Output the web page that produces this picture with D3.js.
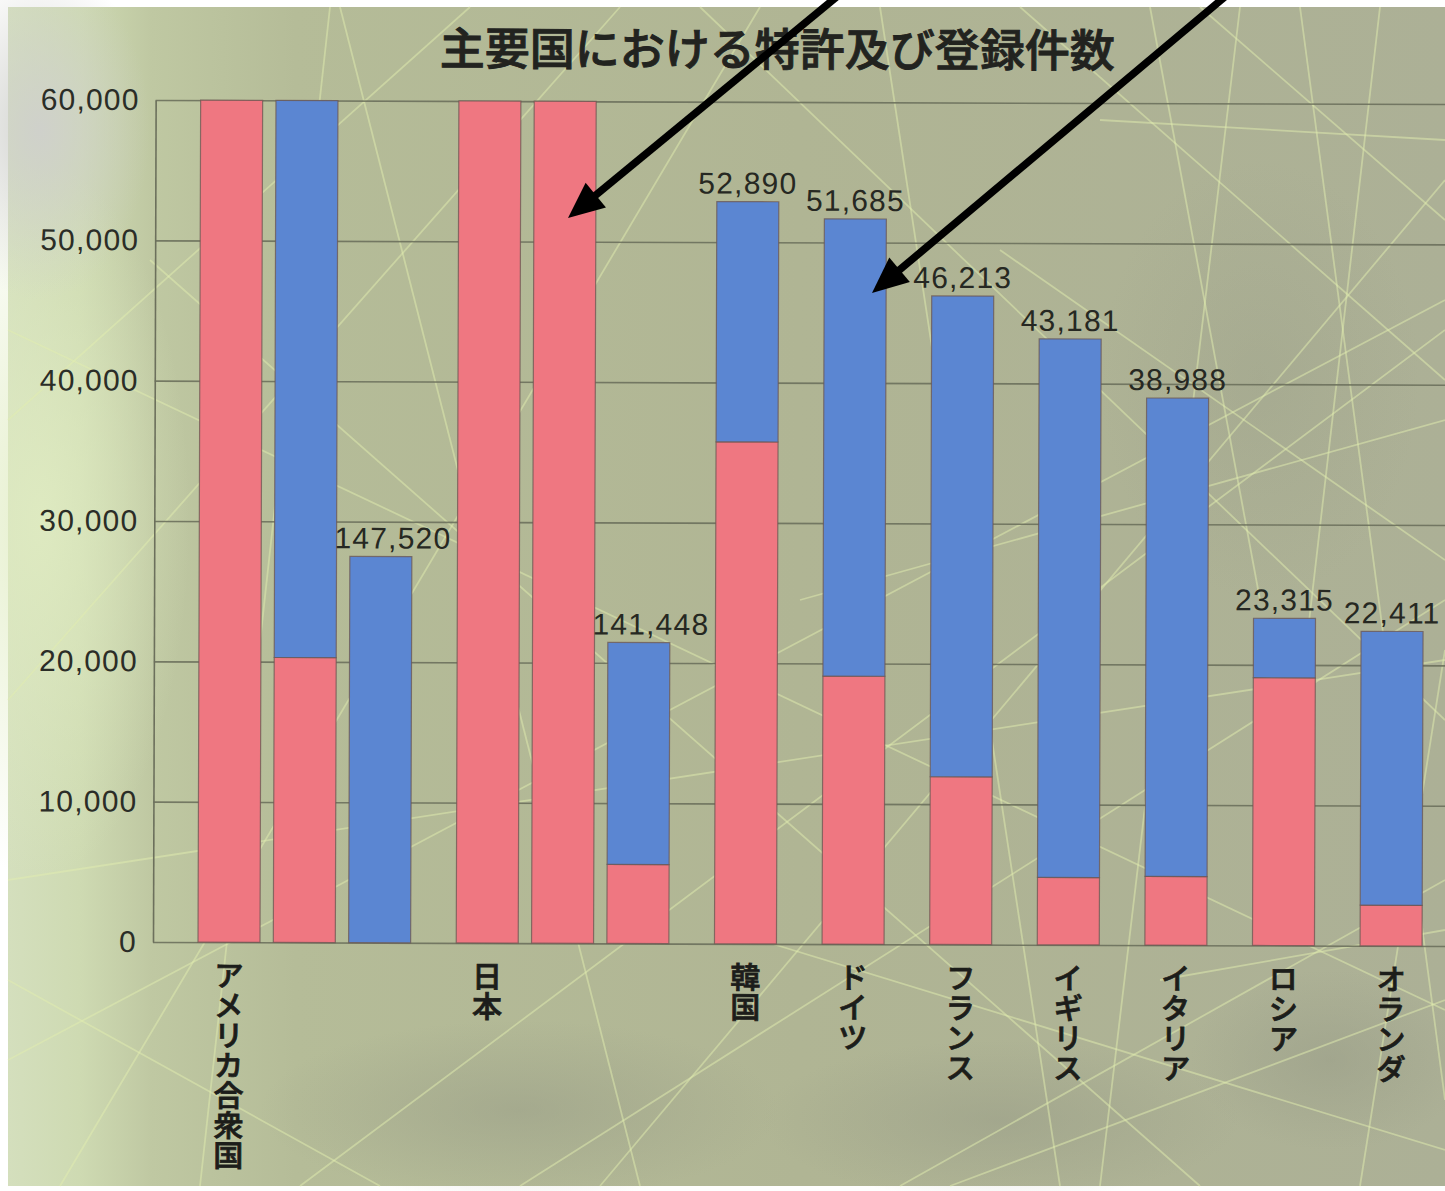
<!DOCTYPE html>
<html>
<head>
<meta charset="utf-8">
<script src="https://cdn.jsdelivr.net/npm/d3@7"></script>
<style>
  html, body { margin: 0; padding: 0; background: #ffffff; }
  svg { display: block; }
</style>
</head>
<body>
<svg id="chart" width="1445" height="1191"></svg>
<script>
// ---- data -------------------------------------------------------------
const countries = ["アメリカ合衆国", "日本", "韓国", "ドイツ", "フランス", "イギリス", "イタリア", "ロシア", "オランダ"];
// total registrations (printed above each bar)
const totals = [147520, 141448, 52890, 51685, 46213, 43181, 38988, 23315, 22411];
// lower (red) part of each bar; the blue part is the remainder of the total
const domestic = [80300, 125630, 35770, 19100, 11950, 4800, 4900, 19080, 2900];
const yTicks = [0, 10000, 20000, 30000, 40000, 50000, 60000];
const titleText = "主要国における特許及び登録件数";
const WRAP = 60000;          // bars taller than the axis continue in a new column

// ---- layout -----------------------------------------------------------
const W = 1445, H = 1191;
const plotLeft = 153, plotRight = 1445, plotTop = 100, plotBottom = 942;
const barW = 62;
const SUB = 0.7;             // spacing of continuation columns, in country steps

const svg = d3.select("#chart");
const defs = svg.append("defs");

// ---- textured backdrop ------------------------------------------------
const bgGrad = defs.append("linearGradient").attr("id", "bgH").attr("x1", 0).attr("x2", 1).attr("y1", 0).attr("y2", 0);
[[0, "#d4dfbd"], [0.05, "#cedab2"], [0.1, "#bfc8a2"], [0.2, "#b5bc98"], [0.55, "#b0b594"], [1, "#acb096"]]
  .forEach(([o, c]) => bgGrad.append("stop").attr("offset", o).attr("stop-color", c));

const glow = defs.append("radialGradient").attr("id", "glowL").attr("cx", 0.5).attr("cy", 0.5).attr("r", 0.5);
glow.append("stop").attr("offset", 0).attr("stop-color", "#e0ecc2").attr("stop-opacity", 0.85);
glow.append("stop").attr("offset", 1).attr("stop-color", "#e0ecc2").attr("stop-opacity", 0);

const greyPatch = defs.append("radialGradient").attr("id", "greyTL").attr("cx", 0.5).attr("cy", 0.5).attr("r", 0.5);
greyPatch.append("stop").attr("offset", 0).attr("stop-color", "#cfd0cc").attr("stop-opacity", 0.95);
greyPatch.append("stop").attr("offset", 1).attr("stop-color", "#cfd0cc").attr("stop-opacity", 0);

const dark = defs.append("radialGradient").attr("id", "darkBlot").attr("cx", 0.5).attr("cy", 0.5).attr("r", 0.5);
dark.append("stop").attr("offset", 0).attr("stop-color", "#979b86").attr("stop-opacity", 0.5);
dark.append("stop").attr("offset", 1).attr("stop-color", "#979b86").attr("stop-opacity", 0);

const bg = svg.append("g").attr("class", "backdrop");
bg.append("rect").attr("x", 8).attr("y", 7).attr("width", W - 8).attr("height", 1179).attr("fill", "url(#bgH)");
bg.append("ellipse").attr("cx", 40).attr("cy", 520).attr("rx", 150).attr("ry", 360).attr("fill", "url(#glowL)");
bg.append("ellipse").attr("cx", 40).attr("cy", 130).attr("rx", 110).attr("ry", 170).attr("fill", "url(#greyTL)");
bg.append("ellipse").attr("cx", 520).attr("cy", 1110).attr("rx", 260).attr("ry", 90).attr("fill", "url(#darkBlot)");
bg.append("ellipse").attr("cx", 1000).attr("cy", 1120).attr("rx", 240).attr("ry", 80).attr("fill", "url(#darkBlot)");
bg.append("ellipse").attr("cx", 1330).attr("cy", 1060).attr("rx", 140).attr("ry", 90).attr("fill", "url(#darkBlot)");
bg.append("ellipse").attr("cx", 1260).attr("cy", 380).attr("rx", 160).attr("ry", 220).attr("fill", "url(#darkBlot)").attr("opacity", 0.6);

// faint crossing strokes of the printed backdrop
const strokes = [
  [60, 1186, 760, 7], [300, 1186, 1445, 330], [520, 1186, 1445, 600], [900, 1186, 1445, 880],
  [8, 700, 620, 7], [8, 980, 380, 1186], [150, 260, 1200, 1186], [700, 7, 1445, 720],
  [1020, 7, 1445, 380], [8, 330, 1445, 1010], [200, 1186, 330, 7], [1100, 1186, 1240, 7],
  [1360, 1186, 1445, 650], [1200, 7, 1445, 220], [880, 7, 1060, 1186], [8, 1060, 1445, 300],
  [470, 7, 8, 420], [1300, 7, 1445, 1100], [950, 1186, 1445, 1000], [600, 1186, 1445, 180],
  [340, 7, 640, 1186], [1100, 120, 1445, 140], [1160, 980, 1445, 930],
  [760, 940, 1445, 1150], [8, 880, 1445, 660], [1000, 250, 1445, 560], [1150, 7, 1260, 600],
  [1380, 7, 1300, 700], [800, 600, 1445, 420]
];
bg.append("g").selectAll("line").data(strokes).join("line")
  .attr("x1", d => d[0]).attr("y1", d => d[1]).attr("x2", d => d[2]).attr("y2", d => d[3])
  .attr("stroke", "#e2eeaf").attr("stroke-width", 1.8).attr("stroke-opacity", 0.5);

// ---- chart --------------------------------------------------------------
// the printed page sits very slightly skewed
const chart = svg.append("g").attr("transform", `rotate(0.18, ${plotLeft}, ${plotBottom})`);

const y = d3.scaleLinear().domain([0, WRAP]).range([plotBottom, plotTop]);
const xUnit = d3.scaleLinear().domain([0, 1]).range([229, 336.6]);

// columns: tall totals continue in extra columns of WRAP each
const rows = countries.map((name, i) => ({ name, total: totals[i], domestic: domestic[i] }));
const columns = [];
let unit = 0;
rows.forEach(r => {
  const n = Math.ceil(r.total / WRAP);
  for (let j = 0; j < n; j++) {
    const lo = j * WRAP, hi = Math.min(r.total, (j + 1) * WRAP);
    columns.push({ row: r, j, n, u: unit + j * SUB, lo, hi });
  }
  unit += 1 + (n - 1) * SUB;
});

// gridlines + left axis
const yAxis = d3.axisLeft(y)
  .tickValues(yTicks)
  .tickFormat(d3.format(","))
  .tickSize(-(plotRight - plotLeft))
  .tickSizeOuter(0)
  .tickPadding(16);
const axisG = chart.append("g").attr("transform", `translate(${plotLeft},0)`).call(yAxis);
axisG.select(".domain").attr("stroke", "#6c705c").attr("stroke-width", 1.6);
axisG.selectAll(".tick line").attr("stroke", "#6c705c").attr("stroke-width", 1.6).attr("stroke-opacity", 0.9);
axisG.selectAll(".tick text")
  .attr("fill", "#2b2d27")
  .style("font-family", "'Liberation Sans', Arial, sans-serif")
  .style("font-size", "30px")
  .style("letter-spacing", "1.2px");

// stacked segments
const segs = [];
columns.forEach(c => {
  const d = c.row.domestic;
  if (d > c.lo) segs.push({ c, from: c.lo, to: Math.min(d, c.hi), color: "#ef7781" });
  const fFrom = Math.max(d, c.lo);
  if (c.hi > fFrom) segs.push({ c, from: fFrom, to: c.hi, color: "#5b86d2" });
});

chart.append("g").attr("class", "bars").selectAll("rect").data(segs).join("rect")
  .attr("x", d => xUnit(d.c.u) - barW / 2)
  .attr("width", barW)
  .attr("y", d => y(d.to - d.c.lo))
  .attr("height", d => y(d.from - d.c.lo) - y(d.to - d.c.lo))
  .attr("fill", d => d.color)
  .attr("stroke", "#6b5652")
  .attr("stroke-width", 1.2)
  .attr("stroke-opacity", 0.75);

// totals above the last column of each country
const lastCols = columns.filter(c => c.j === c.n - 1);
chart.append("g").attr("class", "totals").selectAll("text").data(lastCols).join("text")
  .attr("x", c => xUnit(c.u) + (c.n > 1 ? 12 : 0))
  .attr("y", c => y(c.hi - c.lo) - 8)
  .attr("text-anchor", "middle")
  .attr("fill", "#262822")
  .style("font-family", "'Liberation Sans', Arial, sans-serif")
  .style("font-size", "30px")
  .style("letter-spacing", "1.2px")
  .text(c => d3.format(",")(c.row.total));

// vertical country names under the first column of each country
const firstCols = columns.filter(c => c.j === 0);
chart.append("g").attr("class", "names").selectAll("text").data(firstCols).join("text")
  .attr("x", c => xUnit(c.u))
  .attr("y", 960)
  .attr("fill", "#1c1d1a")
  .attr("stroke", "#1c1d1a")
  .attr("stroke-width", 0.8)
  .style("font-family", "'Noto Sans CJK JP', sans-serif")
  .style("font-size", "30px")
  .style("font-weight", 500)
  .style("writing-mode", "vertical-rl")
  .style("text-orientation", "upright")
  .text(c => c.row.name);

// title
chart.append("text")
  .attr("x", 437).attr("y", 64)
  .attr("fill", "#22231f")
  .attr("stroke", "#22231f")
  .attr("stroke-width", 0.9)
  .style("font-family", "'Noto Sans CJK JP', sans-serif")
  .style("font-size", "45px")
  .style("font-weight", 500)
  .text(titleText);

// ---- pointer arrows ---------------------------------------------------
const arrows = [
  { from: [845, -10], to: [568, 218] },
  { from: [1233, -10], to: [872, 293] }
];
const arrowG = svg.append("g").attr("class", "arrows");
arrows.forEach(a => {
  const [x0, y0] = a.from, [x1, y1] = a.to;
  const len = Math.hypot(x1 - x0, y1 - y0);
  const ux = (x1 - x0) / len, uy = (y1 - y0) / len;
  const headL = 36, headW = 16;
  const bx = x1 - ux * headL, by = y1 - uy * headL;
  arrowG.append("line")
    .attr("x1", x0).attr("y1", y0)
    .attr("x2", bx + ux * 4).attr("y2", by + uy * 4)
    .attr("stroke", "#000").attr("stroke-width", 7.5);
  arrowG.append("path")
    .attr("d", `M${x1},${y1} L${bx - uy * headW},${by + ux * headW} L${bx + uy * headW},${by - ux * headW} Z`)
    .attr("fill", "#000");
});
</script>
</body>
</html>
